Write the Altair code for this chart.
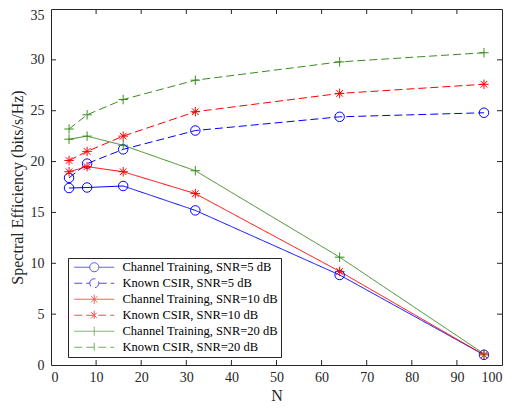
import altair as alt
import pandas as pd

N = [4, 8, 16, 32, 64, 96]
series_names = [
    "Channel Training, SNR=5 dB",
    "Known CSIR, SNR=5 dB",
    "Channel Training, SNR=10 dB",
    "Known CSIR, SNR=10 dB",
    "Channel Training, SNR=20 dB",
    "Known CSIR, SNR=20 dB",
]
ct5 = [17.4, 17.45, 17.6, 15.2, 8.85, 1.0]
kc5 = [18.4, 19.8, 21.2, 23.05, 24.4, 24.8]
ct10 = [19.0, 19.5, 19.0, 16.85, 9.2, 1.0]
kc10 = [20.1, 21.0, 22.5, 24.9, 26.7, 27.6]
ct20 = [22.2, 22.5, 21.6, 19.1, 10.6, 1.1]
kc20 = [23.2, 24.6, 26.1, 28.0, 29.8, 30.7]
all_values = [ct5, kc5, ct10, kc10, ct20, kc20]

x_ticks = list(range(0, 101, 10))
y_ticks = list(range(0, 36, 5))

BLUE = "#0000FF"
RED = "#FF0000"
GREEN = "#3A8C1E"
colors = [BLUE, BLUE, RED, RED, GREEN, GREEN]
dashes = [[1, 0], [8, 4], [1, 0], [8, 4], [1, 0], [8, 4]]

CIRCLE = "circle"
ASTER = "M0,-1L0,1M-1,0L1,0M-0.7,-0.7L0.7,0.7M-0.7,0.7L0.7,-0.7"
PLUS = "M0,-1L0,1M-1,0L1,0"
shapes = [CIRCLE, CIRCLE, ASTER, ASTER, PLUS, PLUS]

# legend symbols: a 40px line with the marker on it (symbol size 100 -> 5px per unit)
r = 0.9
LEG_CIRCLE = (f"M-4,0L{-r},0M{r},0L4,0M{-r},0A{r},{r} 0 1,1 {r},0A{r},{r} 0 1,1 {-r},0")
a = 0.9
d = a * 0.7
LEG_ASTER = (f"M-4,0L4,0M0,{-a}L0,{a}M{-d},{-d}L{d},{d}M{-d},{d}L{d},{-d}")
LEG_PLUS = f"M-4,0L4,0M0,{-a}L0,{a}"
leg_shapes = [LEG_CIRCLE, LEG_CIRCLE, LEG_ASTER, LEG_ASTER, LEG_PLUS, LEG_PLUS]

rows = []
for name, vals in zip(series_names, all_values):
    for n, v in zip(N, vals):
        rows.append({"N": n, "SE": v, "series": name, "label": name})
df = pd.DataFrame(rows)

W, H = 451, 356
FONT = "Liberation Serif, Times New Roman, serif"
AX = "#262626"

xscale = alt.Scale(domain=[0, 100], nice=False)
yscale = alt.Scale(domain=[0, 35], nice=False)

base = alt.Chart(df)

lines = base.mark_line(strokeWidth=1).encode(
    x=alt.X("N:Q", scale=xscale,
            axis=alt.Axis(values=x_ticks, title="N", ticks=False, domain=False,
                          grid=False, labelPadding=5, titlePadding=3,
                          labelFont=FONT, titleFont=FONT, labelFontSize=14,
                          titleFontSize=16, labelColor=AX, titleColor=AX,
                          titleFontWeight="normal")),
    y=alt.Y("SE:Q", scale=yscale,
            axis=alt.Axis(values=y_ticks, title="Spectral Efficiency (bits/s/Hz)",
                          ticks=False, domain=False, grid=False, labelPadding=7,
                          titlePadding=5, labelFont=FONT, titleFont=FONT,
                          labelFontSize=14, titleFontSize=16, labelColor=AX,
                          titleColor=AX, titleFontWeight="normal",
                          labelOffset={"condition": {"test": "datum.value == 35", "value": 6},
                                       "value": 0})),
    color=alt.Color("series:N", scale=alt.Scale(domain=series_names, range=colors), legend=None),
    strokeDash=alt.StrokeDash("series:N", scale=alt.Scale(domain=series_names, range=dashes), legend=None),
    detail="series:N",
)

points = base.mark_point(filled=False, strokeWidth=1, size=90, opacity=1).encode(
    x=alt.X("N:Q", scale=xscale),
    y=alt.Y("SE:Q", scale=yscale),
    color=alt.Color("series:N", scale=alt.Scale(domain=series_names, range=colors), legend=None),
    shape=alt.Shape("series:N", scale=alt.Scale(domain=series_names, range=shapes), legend=None),
)

legend_layer = base.transform_filter("false").mark_point(filled=False, strokeWidth=1).encode(
    x=alt.X("N:Q", scale=xscale),
    y=alt.Y("SE:Q", scale=yscale),
    color=alt.Color("label:N", scale=alt.Scale(domain=series_names, range=colors),
                    legend=alt.Legend(title=None)),
    strokeDash=alt.StrokeDash("label:N", scale=alt.Scale(domain=series_names, range=dashes),
                              legend=alt.Legend(title=None)),
    shape=alt.Shape("label:N", scale=alt.Scale(domain=series_names, range=leg_shapes),
                    legend=alt.Legend(title=None)),
)

xt = pd.DataFrame({"v": x_ticks[1:-1]})
yt = pd.DataFrame({"v": y_ticks[1:-1]})
tick_bottom = alt.Chart(xt).mark_rule(color=AX, strokeWidth=1).encode(
    x=alt.X("v:Q", scale=xscale), y=alt.value(H), y2=alt.value(H - 5))
tick_top = alt.Chart(xt).mark_rule(color=AX, strokeWidth=1).encode(
    x=alt.X("v:Q", scale=xscale), y=alt.value(0), y2=alt.value(5))
tick_left = alt.Chart(yt).mark_rule(color=AX, strokeWidth=1).encode(
    y=alt.Y("v:Q", scale=yscale), x=alt.value(0), x2=alt.value(5))
tick_right = alt.Chart(yt).mark_rule(color=AX, strokeWidth=1).encode(
    y=alt.Y("v:Q", scale=yscale), x=alt.value(W), x2=alt.value(W - 5))

chart = alt.layer(
    tick_bottom, tick_top, tick_left, tick_right, lines, points, legend_layer
).resolve_scale(
    color="independent", shape="independent", strokeDash="independent"
).properties(
    width=W, height=H,
    autosize=alt.AutoSizeParams(type="none"),
    padding={"left": 43, "top": 1, "right": 5, "bottom": 37},
).configure(
    font=FONT
).configure_view(
    stroke=AX, strokeWidth=1
).configure_axis(
    labelFont=FONT, titleFont=FONT,
).configure_legend(
    orient="none", legendX=17, legendY=249,
    labelFont=FONT, labelFontSize=12.5, labelColor="#000000",
    symbolSize=100, symbolStrokeWidth=1, symbolType="circle",
    strokeColor=AX, fillColor="white", padding=3, rowPadding=2,
    labelOffset=22, symbolOffset=17, labelLimit=400,
)

chart.save("out.html", embed_options={"renderer": "svg", "actions": False})
